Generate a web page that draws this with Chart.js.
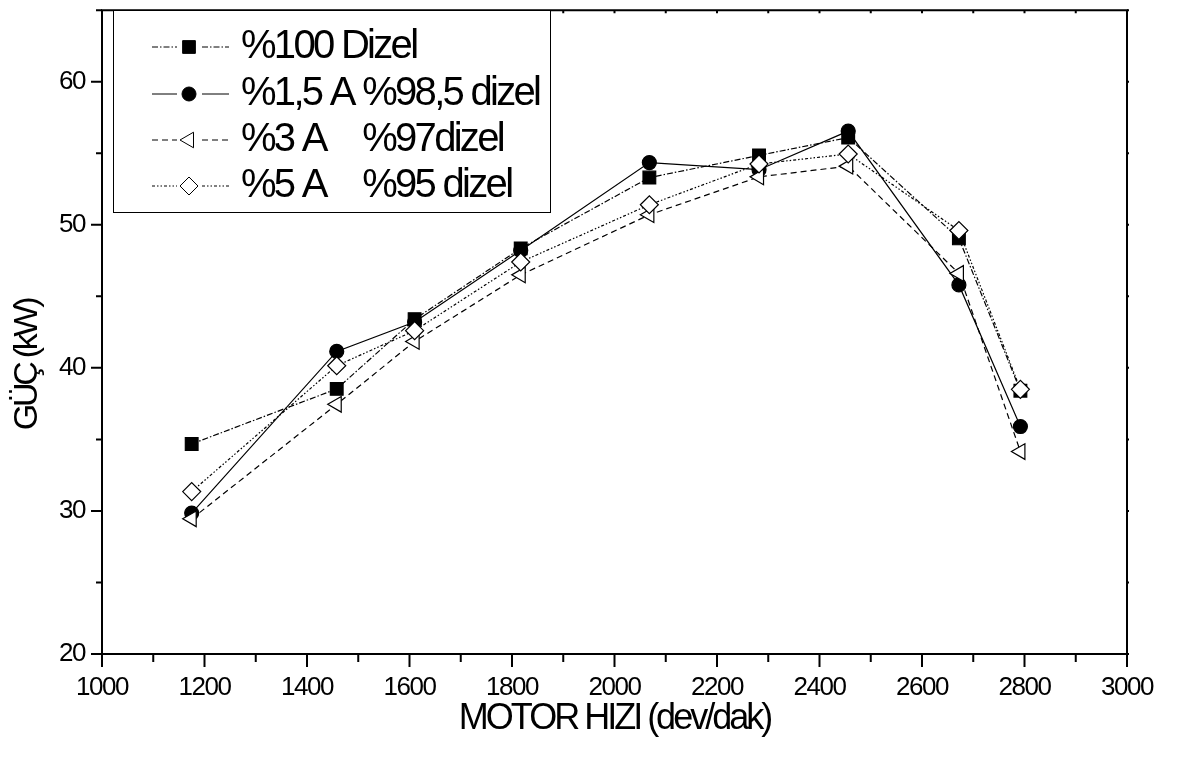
<!DOCTYPE html>
<html>
<head>
<meta charset="utf-8">
<script src="https://cdn.jsdelivr.net/npm/chart.js@4/dist/chart.umd.min.js"></script>
<style>
  html, body { margin: 0; padding: 0; background: #fff; }
  #wrap { width: 1179px; height: 758px; }
</style>
</head>
<body>
<div id="wrap"><canvas id="c" width="1179" height="758"></canvas></div>
<script>
// ---- data ----
const engineSpeed = [1175, 1458, 1610, 1817, 2068, 2282, 2456, 2672, 2792];
const diesel100   = [34.68, 38.53, 43.40, 48.35, 53.30, 54.85, 56.10, 49.05, 38.40];
const a15d985     = [29.85, 41.15, 43.20, 48.20, 54.35, 53.85, 56.55, 45.80, 35.90];
const a3d97       = [29.45, 37.45, 41.85, 46.50, 50.70, 53.35, 54.10, 46.60, 34.15];
const a5d95       = [31.35, 40.15, 42.60, 47.40, 51.40, 54.25, 54.95, 49.60, 38.50];
const seriesLabels = ['%100 Dizel', '%1,5 A %98,5 dizel', '%3 A   %97dizel', '%5 A   %95 dizel'];
const xAxisTitle = 'MOTOR HIZI (dev/dak)';
const yAxisTitle = 'GÜÇ (kW)';
const xRange = [1000, 3000];
const yRange = [20, 65];

const FONT = '"Liberation Sans", Arial, sans-serif';
const toPts = arr => engineSpeed.map((x, i) => ({ x, y: arr[i] }));

const common = {
  borderColor: '#000', borderWidth: 1.2, pointBorderColor: '#000', pointBorderWidth: 1.2,
  tension: 0, fill: false
};

const datasets = [
  Object.assign({}, common, { label: seriesLabels[0], data: toPts(diesel100), borderDash: [6, 2, 1.5, 2],
    pointStyle: 'rect', pointRadius: 9, pointBackgroundColor: '#000', pointRotation: 0, order: 4 }),
  Object.assign({}, common, { label: seriesLabels[1], data: toPts(a15d985), borderDash: [],
    pointStyle: 'circle', pointRadius: 7, pointBackgroundColor: '#000', pointRotation: 0, order: 3 }),
  Object.assign({}, common, { label: seriesLabels[2], data: toPts(a3d97), borderDash: [6, 4],
    pointStyle: 'triangle', pointRadius: 9, pointBackgroundColor: '#fff', pointRotation: -90, order: 2 }),
  Object.assign({}, common, { label: seriesLabels[3], data: toPts(a5d95), borderDash: [3, 2, 1.5, 2, 1.5, 2],
    pointStyle: 'rectRot', pointRadius: 9, pointBackgroundColor: '#fff', pointRotation: 0, order: 1 })
];

const textSpacing = {
  id: 'textSpacing',
  beforeUpdate(chart) { chart.ctx.letterSpacing = '-1.5px'; },
  beforeDraw(chart) { chart.ctx.letterSpacing = '-1.5px'; }
};

const frame = {
  id: 'frame',
  afterDraw(chart) {
    const { ctx, chartArea: a, scales: { x, y } } = chart;
    ctx.save();
    ctx.strokeStyle = '#000';
    ctx.lineWidth = 2;
    ctx.beginPath();
    ctx.rect(a.left, a.top, a.right - a.left, a.bottom - a.top);
    ctx.stroke();
    ctx.beginPath();
    for (let v = x.min; v <= x.max + 1e-6; v += 100) {
      const px = x.getPixelForValue(v);
      const len = (Math.round(v) % 200 === 0) ? 13 : 8;
      ctx.moveTo(px, a.bottom); ctx.lineTo(px, a.bottom + len);
      ctx.moveTo(px, a.top); ctx.lineTo(px, a.top + 3);
    }
    for (let v = y.min; v <= y.max + 1e-6; v += 5) {
      const py = y.getPixelForValue(v);
      const len = (Math.round(v) % 10 === 0) ? 11 : 6;
      ctx.moveTo(a.left, py); ctx.lineTo(a.left - len, py);
      ctx.moveTo(a.right, py); ctx.lineTo(a.right + 2, py);
    }
    ctx.stroke();

    // axis titles
    ctx.fillStyle = '#000';
    ctx.textAlign = 'center';
    ctx.textBaseline = 'middle';
    ctx.letterSpacing = '-3px';
    ctx.font = '36px ' + FONT;
    ctx.fillText(xAxisTitle, (a.left + a.right) / 2, 719);
    ctx.letterSpacing = '-3.3px';
    ctx.font = '34px ' + FONT;
    ctx.save();
    ctx.translate(28, 365);
    ctx.rotate(-Math.PI / 2);
    ctx.fillText(yAxisTitle, 0, 0);
    ctx.restore();
    ctx.restore();
  }
};

const innerLegend = {
  id: 'innerLegend',
  afterDraw(chart) {
    const ctx = chart.ctx;
    const box = { l: 113, t: 10, r: 550, b: 212 };
    ctx.save();
    ctx.fillStyle = '#fff';
    ctx.fillRect(box.l, box.t, box.r - box.l, box.b - box.t);
    ctx.strokeStyle = '#000';
    ctx.lineWidth = 1;
    ctx.strokeRect(box.l + 0.5, box.t + 0.5, box.r - box.l, box.b - box.t);
    ctx.font = '40px ' + FONT;
    ctx.letterSpacing = '-2.7px';
    ctx.textBaseline = 'middle';
    ctx.textAlign = 'left';
    const rows = [47, 94, 140, 186];
    const textX = 241;
    const col2 = textX + ctx.measureText('%1,5 A ').width;
    chart.data.datasets.forEach((ds, i) => {
      const yy = rows[i];
      ctx.save();
      ctx.strokeStyle = '#000';
      ctx.lineWidth = 1;
      ctx.setLineDash(ds.borderDash || []);
      ctx.beginPath();
      ctx.moveTo(152, yy); ctx.lineTo(177, yy);
      ctx.moveTo(202, yy); ctx.lineTo(229, yy);
      ctx.stroke();
      ctx.setLineDash([]);
      ctx.fillStyle = ds.pointBackgroundColor;
      ctx.strokeStyle = '#000';
      ctx.lineWidth = 1;
      Chart.helpers.drawPoint(ctx, {
        pointStyle: ds.pointStyle, radius: ds.pointRadius, rotation: ds.pointRotation, borderWidth: 1
      }, 189, yy);
      ctx.restore();
      ctx.fillStyle = '#000';
      const parts = ds.label.split(/\s{2,}/);
      ctx.fillText(parts[0], textX, yy);
      if (parts[1]) ctx.fillText(parts[1], col2, yy);
    });
    ctx.restore();
  }
};

new Chart(document.getElementById('c'), {
  type: 'line',
  data: { datasets },
  options: {
    responsive: false,
    devicePixelRatio: 1,
    animation: false,
    layout: { padding: { top: 4, right: 52, left: 0, bottom: 0 } },
    plugins: { legend: { display: false }, tooltip: { enabled: false } },
    scales: {
      x: {
        type: 'linear', min: xRange[0], max: xRange[1],
        grid: { display: false, drawTicks: false },
        border: { display: false },
        ticks: { stepSize: 200, autoSkip: false, maxRotation: 0, padding: 18, color: '#000',
          font: { family: FONT, size: 26 }, callback: v => String(v) },
        afterFit(s) { s.height = 104; s.paddingLeft = 0; s.paddingRight = 0; s.paddingTop = 0; s.paddingBottom = 0; }
      },
      y: {
        type: 'linear', min: yRange[0], max: yRange[1],
        grid: { display: false, drawTicks: false },
        border: { display: false },
        ticks: { stepSize: 10, includeBounds: false, padding: 17, color: '#000',
          font: { family: FONT, size: 26 }, callback: v => (v % 10 === 0 ? String(v) : '') },
        afterFit(s) { s.width = 102; s.paddingTop = 0; s.paddingBottom = 0; s.paddingLeft = 0; s.paddingRight = 0; }
      }
    }
  },
  plugins: [textSpacing, frame, innerLegend]
});
</script>
</body>
</html>
